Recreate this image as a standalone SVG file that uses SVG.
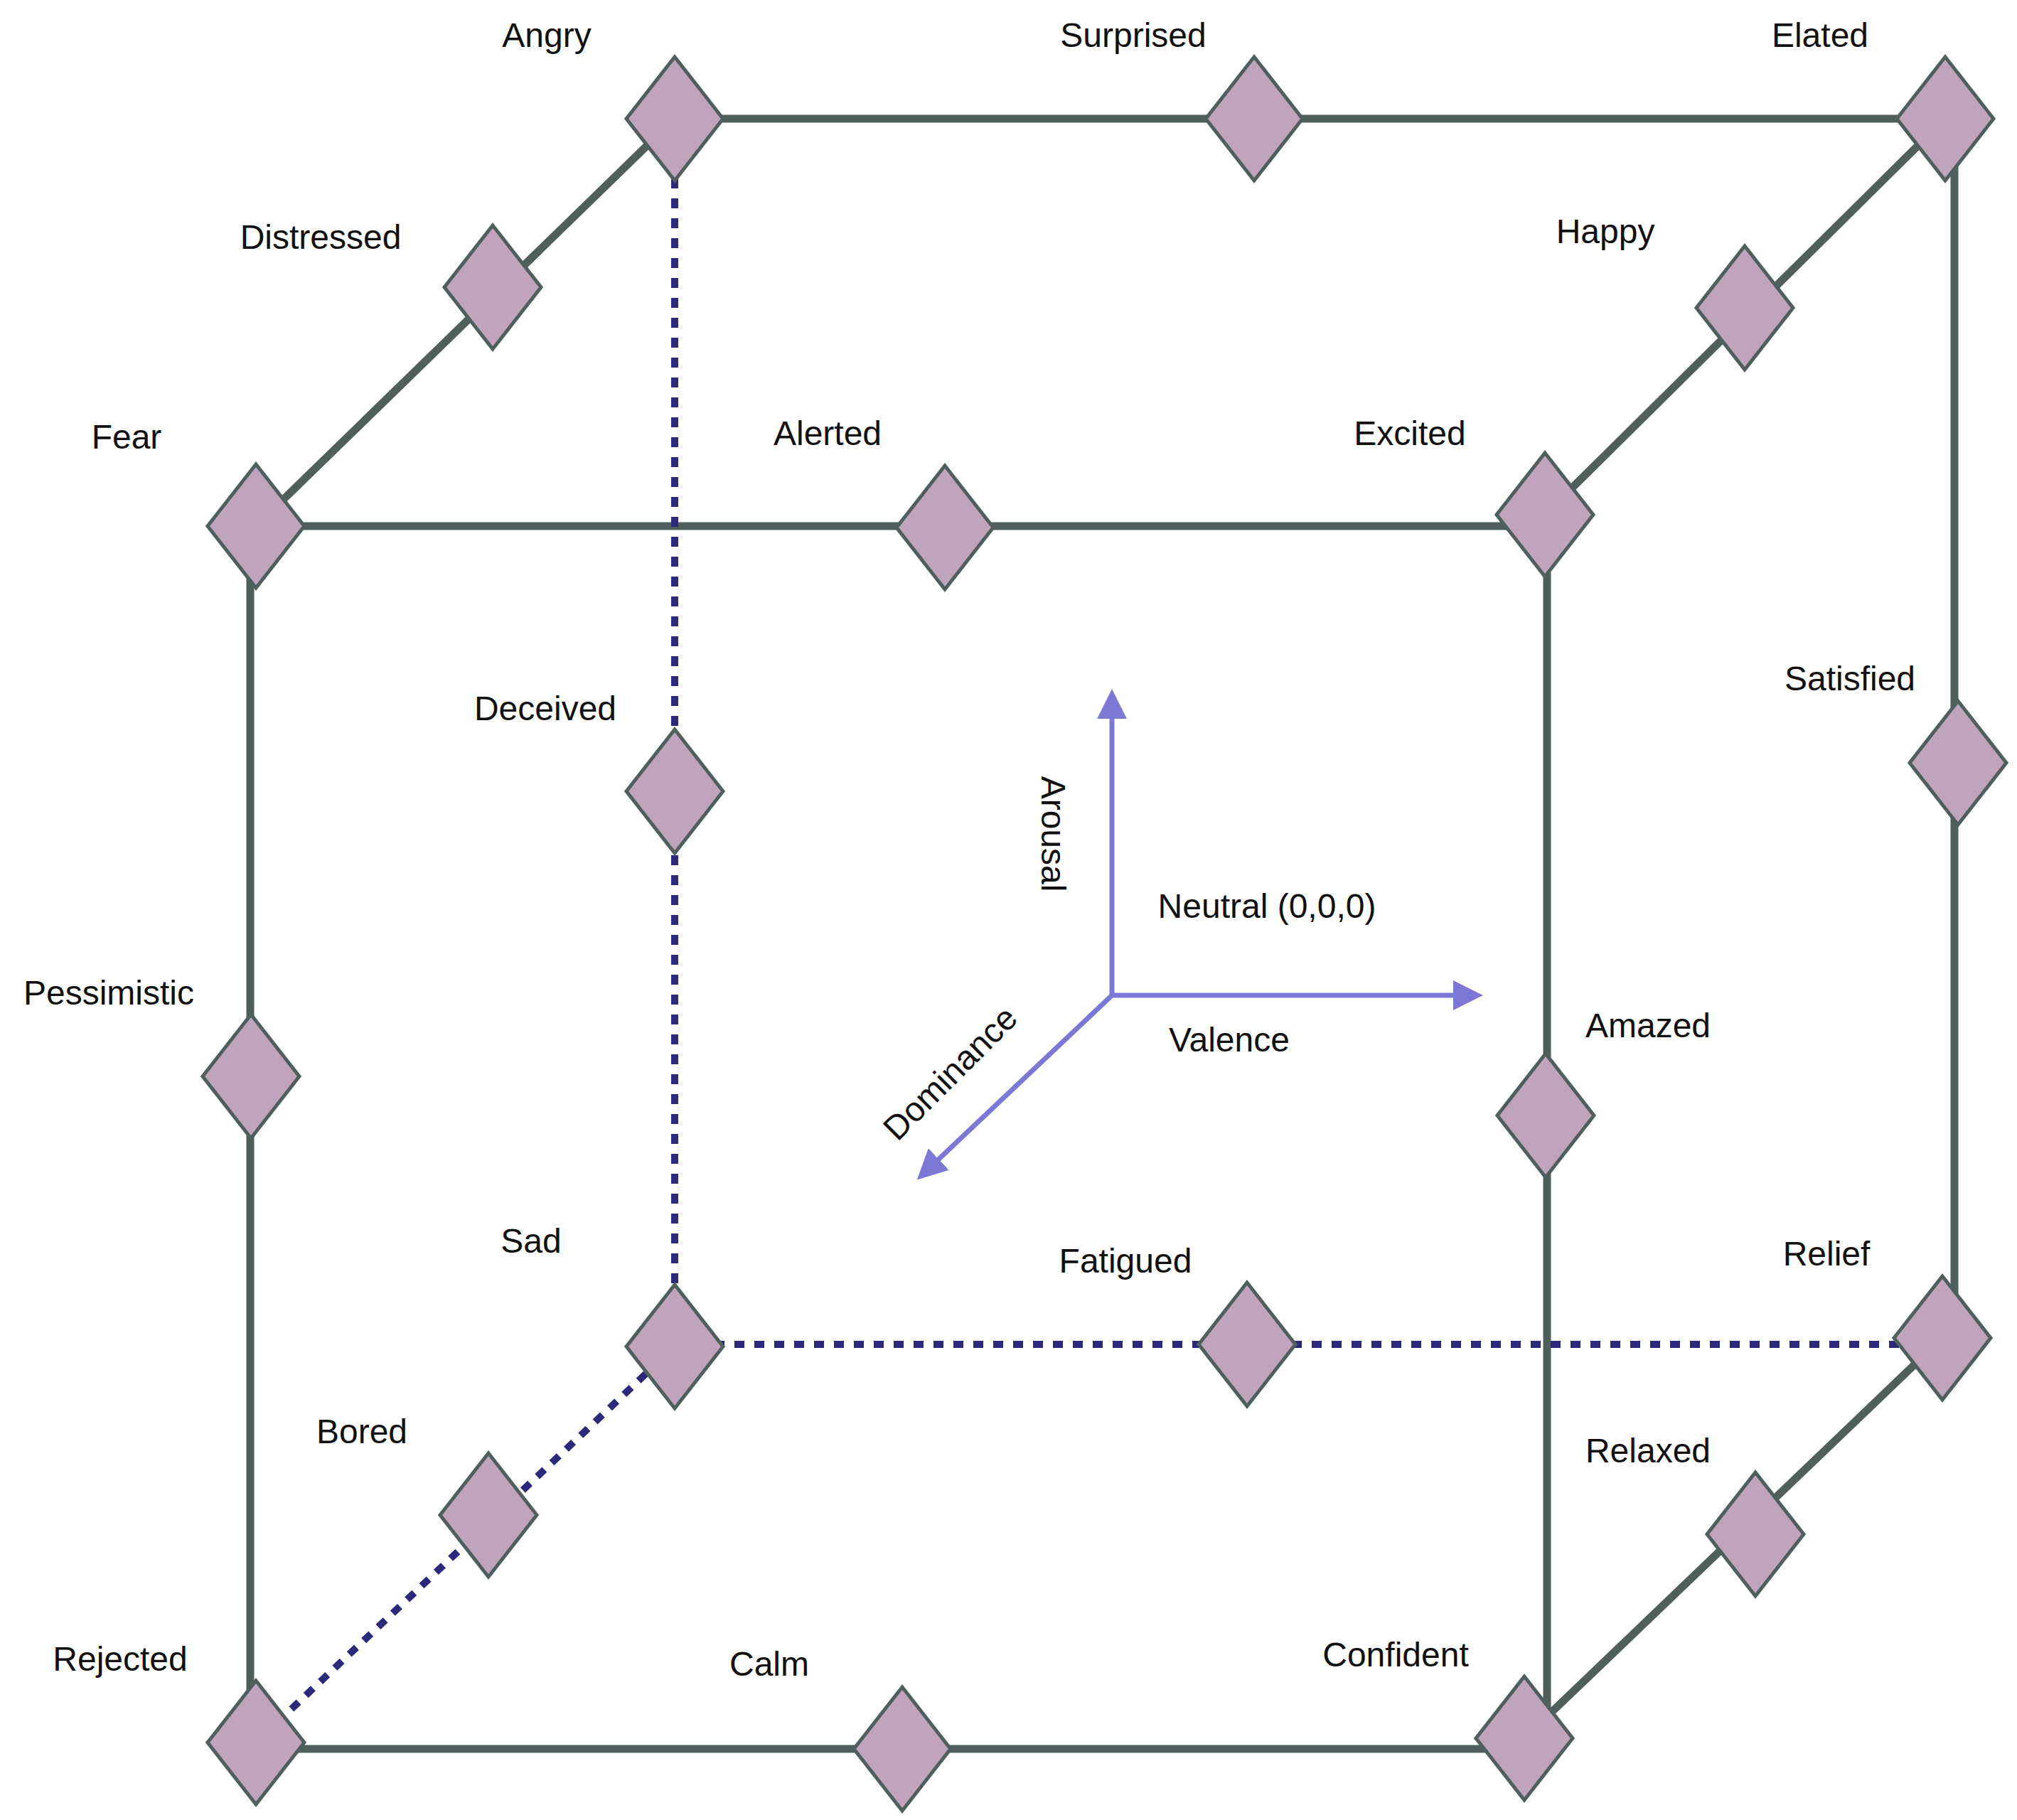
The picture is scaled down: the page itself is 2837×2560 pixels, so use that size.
<svg xmlns="http://www.w3.org/2000/svg" width="2837" height="2560" viewBox="0 0 2837 2560">
<style>
.s{stroke:#4f5f5c;stroke-width:11;fill:none}
.d{stroke:#2b2a7a;stroke-width:10;stroke-dasharray:14 14;fill:none}
.a{stroke:#7b78d6;stroke-width:7;fill:none}
.n{fill:#c0a3bd;stroke:#4f5f5c;stroke-width:5}
text{font-family:"Liberation Sans",Arial,sans-serif;font-size:48px;fill:#111;text-anchor:middle}
</style>
<defs>
<polygon id="dm" points="0,-87 68,0 0,87 -68,0"/>
<marker id="ah" markerWidth="6" markerHeight="6" refX="3" refY="3" orient="auto" markerUnits="strokeWidth"><path d="M0,0 L6,3 L0,6 z" fill="#7b78d6"/></marker>
</defs>
<rect width="2837" height="2560" fill="#fff"/>
<g id="connectors">
<path class="s" d="M949,167 H2736 M360,740 H2173 M360,740 L949,167 M2173,724 L2736,167 M352,740 V2451 M2176,724 V2445 M2749,167 V1882 M360,2460 H2144 M2144,2445 L2732,1882"/>
<path class="d" d="M949,167 V1894 M949,1891 H2732 M949,1894 L360,2451"/>
<path class="a" marker-end="url(#ah)" d="M1564,1400 V990"/>
<path class="a" marker-end="url(#ah)" d="M1564,1400 H2065"/>
<path class="a" marker-end="url(#ah)" d="M1564,1400 L1305,1645"/>
</g>
<g id="Angry"><use href="#dm" class="n" x="949" y="167"/><text x="769" y="66">Angry</text></g>
<g id="Surprised"><use href="#dm" class="n" x="1764" y="167"/><text x="1594" y="66">Surprised</text></g>
<g id="Elated"><use href="#dm" class="n" x="2736" y="167"/><text x="2560" y="66">Elated</text></g>
<g id="Distressed"><use href="#dm" class="n" x="693" y="404"/><text x="451" y="350">Distressed</text></g>
<g id="Happy"><use href="#dm" class="n" x="2454" y="433"/><text x="2258" y="342">Happy</text></g>
<g id="Fear"><use href="#dm" class="n" x="360" y="740"/><text x="178" y="631">Fear</text></g>
<g id="Alerted"><use href="#dm" class="n" x="1329" y="742"/><text x="1164" y="626">Alerted</text></g>
<g id="Excited"><use href="#dm" class="n" x="2173" y="724"/><text x="1983" y="626">Excited</text></g>
<g id="Deceived"><use href="#dm" class="n" x="949" y="1113"/><text x="767" y="1013">Deceived</text></g>
<g id="Satisfied"><use href="#dm" class="n" x="2754" y="1073"/><text x="2602" y="971">Satisfied</text></g>
<g id="Pessimistic"><use href="#dm" class="n" x="353" y="1514"/><text x="153" y="1413">Pessimistic</text></g>
<g id="Amazed"><use href="#dm" class="n" x="2174" y="1569"/><text x="2318" y="1459">Amazed</text></g>
<g id="Neutral"><text x="1782" y="1291">Neutral (0,0,0)</text><text x="1729" y="1479">Valence</text><text transform="translate(1482,1173) rotate(90)" y="17">Arousal</text><text transform="translate(1336,1509) rotate(-45)" y="17">Dominance</text></g>
<g id="Sad"><use href="#dm" class="n" x="949" y="1894"/><text x="747" y="1762">Sad</text></g>
<g id="Fatigued"><use href="#dm" class="n" x="1754" y="1891"/><text x="1583" y="1790">Fatigued</text></g>
<g id="Relief"><use href="#dm" class="n" x="2732" y="1882"/><text x="2569" y="1780">Relief</text></g>
<g id="Bored"><use href="#dm" class="n" x="687" y="2131"/><text x="509" y="2030">Bored</text></g>
<g id="Relaxed"><use href="#dm" class="n" x="2469" y="2158"/><text x="2318" y="2057">Relaxed</text></g>
<g id="Rejected"><use href="#dm" class="n" x="360" y="2451"/><text x="169" y="2350">Rejected</text></g>
<g id="Calm"><use href="#dm" class="n" x="1269" y="2460"/><text x="1082" y="2357">Calm</text></g>
<g id="Confident"><use href="#dm" class="n" x="2144" y="2445"/><text x="1963" y="2344">Confident</text></g>
</svg>
